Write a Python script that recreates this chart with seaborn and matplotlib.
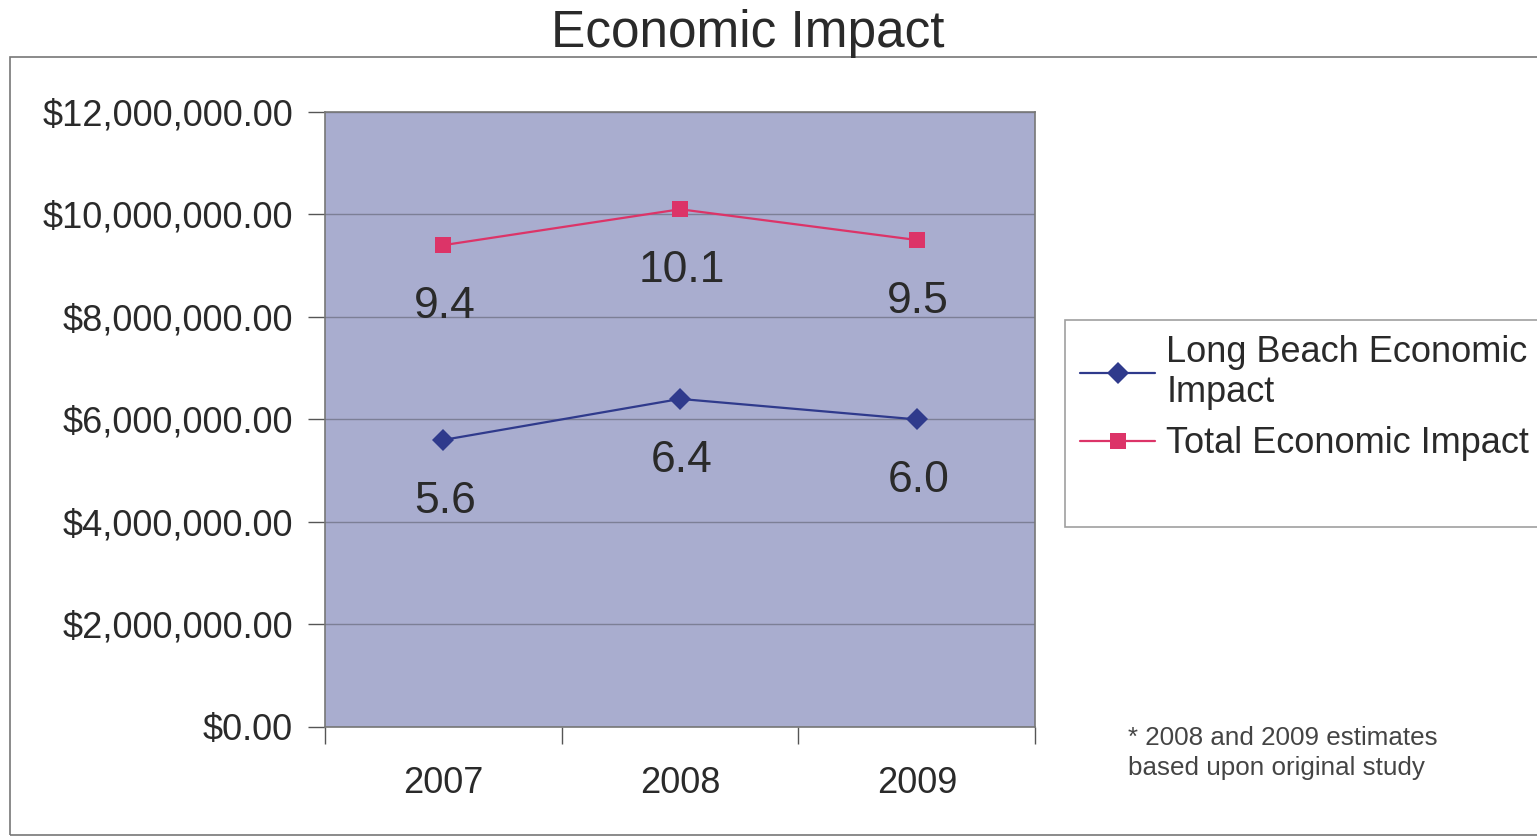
import pandas as pd
import matplotlib
matplotlib.use("Agg")
import matplotlib.pyplot as plt
import seaborn as sns
from matplotlib.patches import Rectangle
from matplotlib.lines import Line2D
from matplotlib.ticker import FuncFormatter, FixedLocator

years = ["2007", "2008", "2009"]
long_beach = [5.6e6, 6.4e6, 6.0e6]
total = [9.4e6, 10.1e6, 9.5e6]
series_names = ["Long Beach Economic\nImpact", "Total Economic Impact"]

df = pd.DataFrame({
    "year": years * 2,
    "value": long_beach + total,
    "series": [series_names[0]] * 3 + [series_names[1]] * 3,
})

sns.set_style("white")
plt.rcParams["font.family"] = ["Liberation Sans", "DejaVu Sans"]
text_color = "#2a2a2a"

fig = plt.figure(figsize=(15.37, 8.38), dpi=100)
ax = fig.add_axes([0.2115, 0.1325, 0.462, 0.734])
ax.set_facecolor("#a9adcf")

palette = {series_names[0]: "#2f3a8c", series_names[1]: "#dc3468"}
sns.lineplot(data=df, x="year", y="value", hue="series", style="series",
             markers={series_names[0]: "D", series_names[1]: "s"}, dashes=False,
             palette=palette, markersize=11, linewidth=1.6, ax=ax, sort=False,
             markeredgewidth=0)

# data labels in millions, below each point
for vals in (long_beach, total):
    for i, v in enumerate(vals):
        ax.annotate(f"{v / 1e6:.1f}", (i, v), xytext=(1, -44), textcoords="offset points",
                    ha="center", va="center", fontsize=32, color=text_color)

ax.set_xlim(-0.5, 2.5)
ax.set_ylim(0, 12e6)
ax.yaxis.set_major_locator(FixedLocator([0, 2e6, 4e6, 6e6, 8e6, 10e6, 12e6]))
ax.yaxis.set_major_formatter(FuncFormatter(lambda v, p: f"${v:,.2f}"))
ax.grid(axis="y", color="#7c7f96", linewidth=1.0)
ax.set_axisbelow(True)

ax.set_xticks([0, 1, 2])
ax.set_xticklabels(years)
ax.set_xticks([-0.5, 0.5, 1.5, 2.5], minor=True)
ax.tick_params(axis="x", which="major", length=0, pad=28, labelsize=26, labelcolor=text_color)
ax.tick_params(axis="x", which="minor", length=12, width=1, color="#555555", direction="out")
ax.tick_params(axis="y", length=12, width=1, color="#555555", direction="out", pad=11,
               labelsize=26, labelcolor=text_color)
ax.yaxis.set_tick_params(left=True)
ax.xaxis.set_tick_params(which="minor", bottom=True)
for s in ax.spines.values():
    s.set_color("#777777")
    s.set_linewidth(1.2)
ax.set_xlabel("")
ax.set_ylabel("")

ax.get_legend().remove()
handles, labels = ax.get_legend_handles_labels()
# blank row keeps the empty space at the bottom of the legend box
handles.append(Line2D([], [], linestyle="none"))
labels.append(" ")
leg = fig.legend(handles, labels, loc="upper left", bbox_to_anchor=(0.693, 0.618),
                 borderaxespad=0, fontsize=26, frameon=True, fancybox=False,
                 handlelength=2.1, handletextpad=0.3, labelspacing=0.45, borderpad=0.4,
                 labelcolor=text_color)
leg.get_frame().set_edgecolor("#888888")
leg.get_frame().set_linewidth(1.2)

fig.text(0.4865, 0.96, "Economic Impact", ha="center", va="center", fontsize=37, color=text_color)
fig.text(0.734, 0.134, "* 2008 and 2009 estimates\nbased upon original study",
         ha="left", va="top", fontsize=18.7, color="#444444", linespacing=1.35)

fig.patches.append(Rectangle((0.0065, 0.003), 1.0, 0.929, transform=fig.transFigure,
                             fill=False, edgecolor="#777777", linewidth=1.2))

fig.savefig("out.png", dpi=100, facecolor="white")
